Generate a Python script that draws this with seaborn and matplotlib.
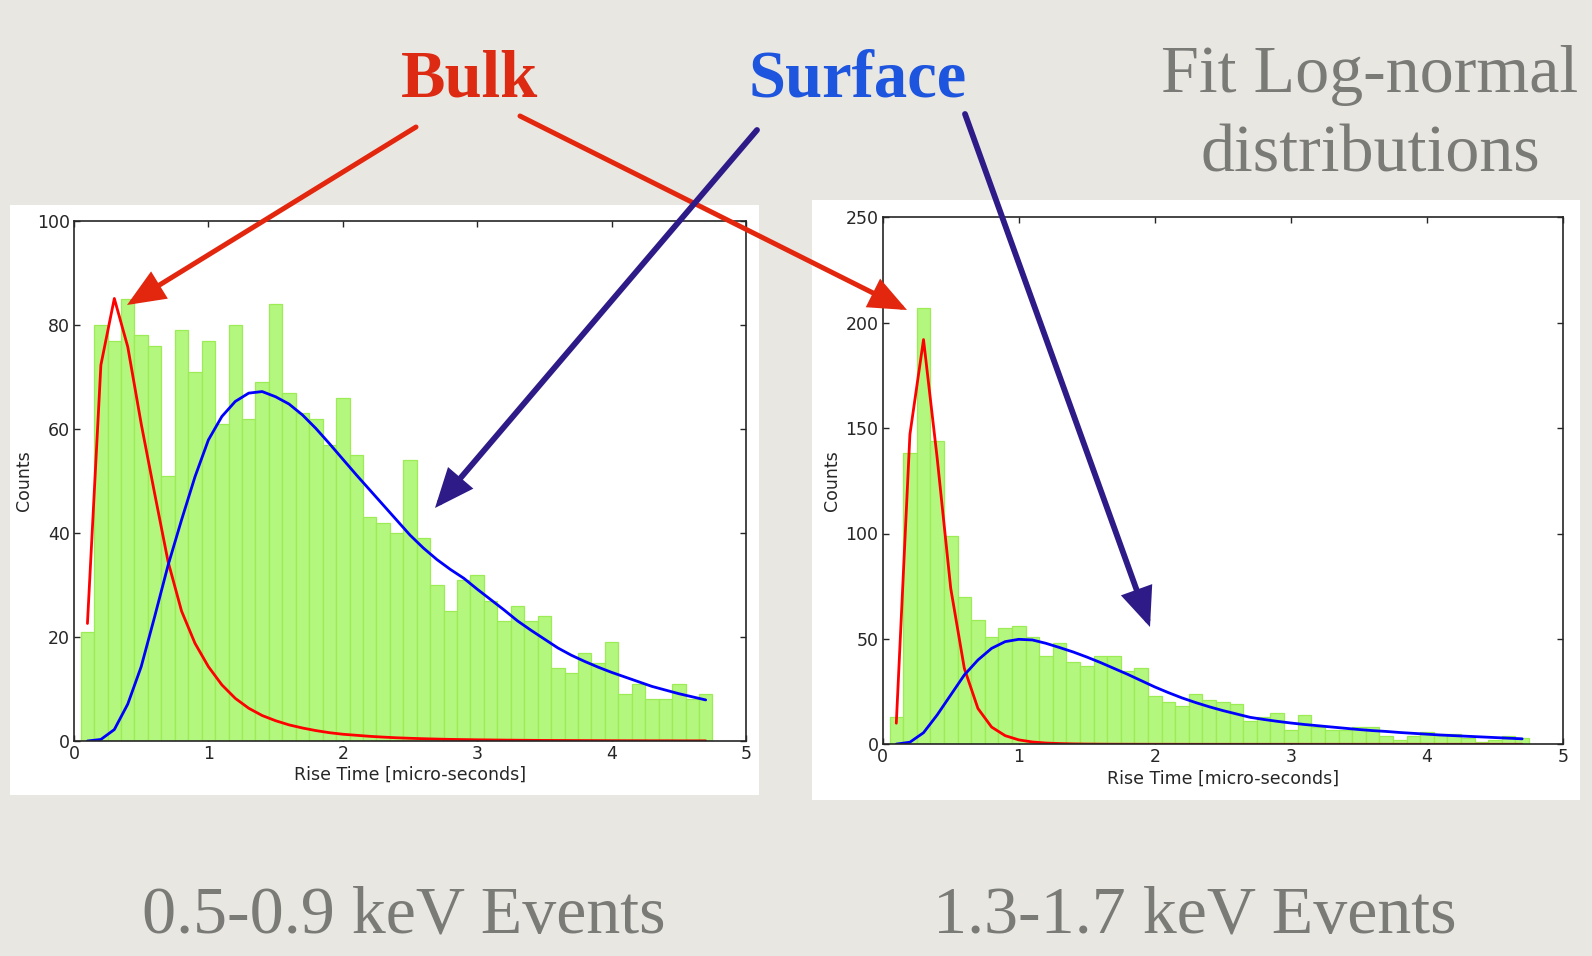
import numpy as np
import pandas as pd
import matplotlib
matplotlib.use("Agg")
import matplotlib.pyplot as plt
from matplotlib.patches import Rectangle
import seaborn as sns

# ---------------------------------------------------------------------------
# Rise-time histograms (bin width 0.1 us, centres 0.1 ... 4.7 us)
# ---------------------------------------------------------------------------
bin_width = 0.1
bin_range = (0.05, 4.75)
rise_time = np.round(np.arange(0.1, 4.71, 0.1), 2)

# 0.5-0.9 keV events
counts_low = [21, 80, 77, 85, 78, 76, 51, 79, 71, 77,
              61, 80, 62, 69, 84, 67, 63, 62, 57, 66,
              55, 43, 42, 40, 54, 39, 30, 25, 31, 32,
              27, 23, 26, 23, 24, 14, 13, 17, 15, 19,
              9, 11, 8, 8, 11, 8, 9]
bulk_low = [22.6, 72.3, 85.1, 75.8, 61.0, 47.6, 34.5, 25.0, 18.8, 14.3,
            10.8, 8.2, 6.3, 4.9, 3.9, 3.1, 2.5, 2.0, 1.6, 1.3,
            1.1, 0.9, 0.75, 0.62, 0.52, 0.44, 0.37, 0.31, 0.27, 0.23,
            0.2, 0.17, 0.15, 0.13, 0.11, 0.1, 0.09, 0.08, 0.07, 0.06,
            0.05, 0.05, 0.04, 0.04, 0.03, 0.03, 0.03]
surface_low = [0.0, 0.3, 2.2, 7.1, 14.3, 23.9, 33.8, 42.5, 50.8, 57.9,
               62.4, 65.3, 66.9, 67.2, 66.2, 64.8, 62.7, 60.1, 57.2, 54.2,
               51.2, 48.3, 45.4, 42.5, 39.6, 37.1, 34.9, 33.0, 31.3, 29.2,
               27.2, 25.2, 23.1, 21.3, 19.6, 17.9, 16.5, 15.3, 14.2, 13.2,
               12.3, 11.4, 10.5, 9.8, 9.1, 8.5, 7.9]

# 1.3-1.7 keV events
counts_high = [13, 138, 207, 144, 99, 70, 59, 51, 55, 56,
               51, 42, 48, 39, 37, 42, 42, 35, 36, 23,
               20, 18, 24, 21, 20, 19, 11, 13, 15, 7,
               14, 8, 7, 7, 8, 8, 4, 2, 4, 6,
               5, 5, 3, 1, 2, 4, 3]
bulk_high = [10.0, 147.0, 192.0, 136.0, 74.0, 36.0, 17.0, 8.2, 4.1, 2.1,
             1.1, 0.6, 0.35, 0.2, 0.12, 0.07, 0.04, 0.03, 0.02, 0.01,
             0.01, 0.0, 0.0, 0.0, 0.0, 0.0, 0.0, 0.0, 0.0, 0.0,
             0.0, 0.0, 0.0, 0.0, 0.0, 0.0, 0.0, 0.0, 0.0, 0.0,
             0.0, 0.0, 0.0, 0.0, 0.0, 0.0, 0.0]
surface_high = [0.1, 1.0, 5.5, 13.9, 23.4, 32.9, 40.0, 45.5, 48.7, 49.8,
                49.5, 47.9, 45.9, 43.8, 41.4, 38.8, 36.0, 33.2, 30.2, 27.2,
                24.5, 22.0, 19.8, 17.8, 16.0, 14.4, 12.8, 11.8, 10.9, 10.1,
                9.4, 8.8, 8.2, 7.6, 7.0, 6.5, 6.1, 5.6, 5.2, 4.8,
                4.4, 4.1, 3.8, 3.5, 3.2, 2.9, 2.6]

x_ticks = [0, 1, 2, 3, 4, 5]
y_ticks_low = [0, 20, 40, 60, 80, 100]
y_ticks_high = [0, 50, 100, 150, 200, 250]

# ---------------------------------------------------------------------------
# Style
# ---------------------------------------------------------------------------
sns.set_theme(style="ticks")
plt.rcParams["font.family"] = ["DejaVu Sans"]

W, H = 1592, 956
fig = plt.figure(figsize=(W / 100, H / 100), dpi=100)
paper = "#e9e7e2"
fig.patch.set_facecolor(paper)

bar_face = "#b3f77e"
bar_edge = "#9cec55"
axis_ink = "#262626"
label_size = 12.5

# background layer (pixel coordinates, y downwards)
bg = fig.add_axes([0, 0, 1, 1], zorder=0)
bg.set_xlim(0, W)
bg.set_ylim(H, 0)
bg.axis("off")
bg.add_patch(Rectangle((10, 205), 749, 590, facecolor="white", edgecolor="none"))
bg.add_patch(Rectangle((812, 200), 768, 600, facecolor="white", edgecolor="none"))


def draw_panel(ax, counts, bulk, surface, ymax, yticks):
    df = pd.DataFrame({"rise": rise_time, "count": counts,
                       "bulk": bulk, "surface": surface})
    sns.histplot(data=df, x="rise", weights="count", binwidth=bin_width,
                 binrange=bin_range, ax=ax, color=bar_face, edgecolor=bar_edge,
                 linewidth=0.9, alpha=1.0)
    sns.lineplot(data=df, x="rise", y="bulk", ax=ax, color="#ff0000", linewidth=2.0)
    sns.lineplot(data=df, x="rise", y="surface", ax=ax, color="#0000ff", linewidth=2.0)
    ax.set_xlim(0, 5)
    ax.set_ylim(0, ymax)
    ax.set_xticks(x_ticks)
    ax.set_yticks(yticks)
    ax.set_xlabel("Rise Time [micro-seconds]", fontsize=label_size, color=axis_ink, labelpad=2)
    ax.set_ylabel("Counts", fontsize=label_size, color=axis_ink, labelpad=3)
    ax.tick_params(direction="in", top=True, right=True, length=4.5, width=1,
                   labelsize=label_size, colors=axis_ink, pad=3)
    for s in ax.spines.values():
        s.set_visible(True)
        s.set_color(axis_ink)
        s.set_linewidth(1.2)
    ax.set_facecolor("white")


ax_low = fig.add_axes([74 / W, 1 - 741 / H, (746 - 74) / W, (741 - 221) / H], zorder=1)
draw_panel(ax_low, counts_low, bulk_low, surface_low, 100, y_ticks_low)

ax_high = fig.add_axes([882.7 / W, 1 - 744.3 / H, (1563 - 882.7) / W, (744.3 - 217.3) / H], zorder=1)
draw_panel(ax_high, counts_high, bulk_high, surface_high, 250, y_ticks_high)

# ---------------------------------------------------------------------------
# Slide annotations
# ---------------------------------------------------------------------------
ov = fig.add_axes([0, 0, 1, 1], zorder=3)
ov.set_xlim(0, W)
ov.set_ylim(H, 0)
ov.axis("off")
ov.patch.set_alpha(0)

serif = ["Liberation Serif", "DejaVu Serif"]
grey_text = "#7a7a77"
bulk_red = "#dd2a12"
surf_blue = "#1d55df"
arrow_red = "#e3270f"
arrow_violet = "#2e1b88"

ov.text(469, 96, "Bulk", ha="center", va="baseline", fontsize=48,
        fontweight="bold", color=bulk_red, family=serif)
ov.text(858, 96, "Surface", ha="center", va="baseline", fontsize=48,
        fontweight="bold", color=surf_blue, family=serif)
ov.text(1370, 92, "Fit Log-normal", ha="center", va="baseline", fontsize=49,
        color=grey_text, family=serif)
ov.text(1370, 171, "distributions", ha="center", va="baseline", fontsize=49,
        color=grey_text, family=serif)
ov.text(404, 932, "0.5-0.9 keV Events", ha="center", va="baseline", fontsize=49,
        color=grey_text, family=serif)
ov.text(1195, 932, "1.3-1.7 keV Events", ha="center", va="baseline", fontsize=49,
        color=grey_text, family=serif)


def arrow(start, end, color, lw):
    ov.annotate("", xy=end, xytext=start,
                arrowprops=dict(arrowstyle="-|>,head_length=1.0,head_width=0.42",
                                mutation_scale=21, lw=lw, color=color,
                                shrinkA=0, shrinkB=0, joinstyle="miter"))


arrow((416, 127), (127, 305), arrow_red, 3.6)
arrow((520, 116), (907, 310), arrow_red, 3.6)
arrow((757, 130), (435, 508), arrow_violet, 4.2)
arrow((965, 114), (1150, 627), arrow_violet, 4.2)

fig.savefig("out.png", dpi=100, facecolor=fig.get_facecolor())
